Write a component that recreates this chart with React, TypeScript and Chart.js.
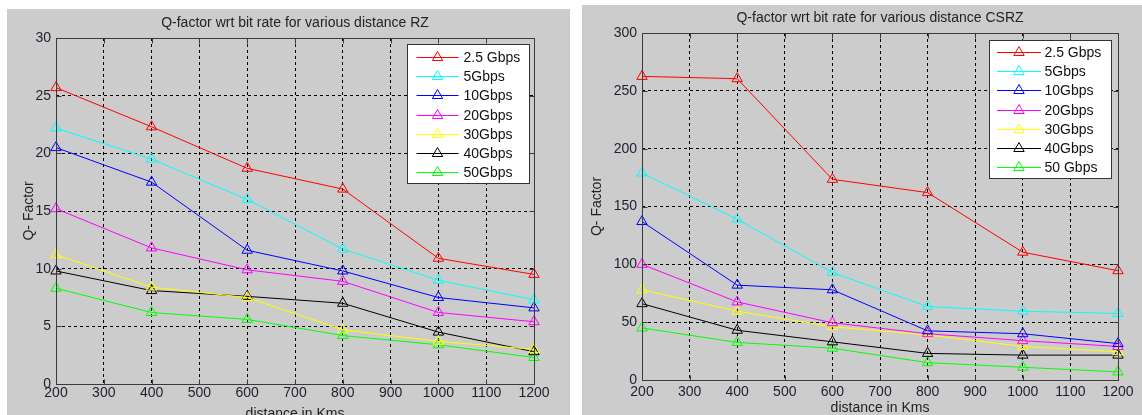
import React, { useEffect, useRef } from "react";
import { Chart, registerables } from "chart.js";

Chart.register(...registerables);

const FONT = "'Liberation Sans', Arial, Helvetica, sans-serif";

// ---------- data ----------
const distances = [200, 400, 600, 800, 1000, 1200];

const seriesColors = ["#ff0000", "#00ffff", "#0000ff", "#ff00ff", "#ffff00", "#000000", "#00ff00"];

const rzLabels = ["2.5 Gbps", "5Gbps", "10Gbps", "20Gbps", "30Gbps", "40Gbps", "50Gbps"];
const rz_2_5 = [25.7, 22.3, 18.7, 16.9, 10.9, 9.5];
const rz_5 = [22.2, 19.5, 16.0, 11.7, 9.0, 7.3];
const rz_10 = [20.5, 17.5, 11.6, 9.8, 7.5, 6.6];
const rz_20 = [15.2, 11.8, 9.9, 8.9, 6.2, 5.4];
const rz_30 = [11.2, 8.4, 7.5, 4.7, 3.7, 3.0];
const rz_40 = [9.8, 8.1, 7.6, 7.0, 4.5, 2.8];
const rz_50 = [8.3, 6.2, 5.6, 4.2, 3.4, 2.3];

const csrzLabels = ["2.5 Gbps", "5Gbps", "10Gbps", "20Gbps", "30Gbps", "40Gbps", "50 Gbps"];
const csrz_2_5 = [262.5, 260.5, 173.5, 162, 110.5, 94.5];
const csrz_5 = [179, 139, 93, 63.5, 59.5, 57.5];
const csrz_10 = [137, 82, 78, 42.5, 40, 31.5];
const csrz_20 = [100, 67.5, 49.5, 40, 34, 29];
const csrz_30 = [78, 59.5, 46, 39, 29, 24.5];
const csrz_40 = [66, 43, 33, 23, 21.5, 21.5];
const csrz_50 = [45, 32.5, 27.5, 15, 11, 7];

const rzTitle = "Q-factor wrt bit rate for various distance RZ";
const csrzTitle = "Q-factor wrt bit rate for various distance CSRZ";
const xTitle = "distance in Kms";
const yTitle = "Q- Factor";

// ---------- helpers ----------
function drawTri(ctx: CanvasRenderingContext2D, x: number, y: number, r: number) {
  const s = Math.sin((2 * Math.PI) / 3) * r;
  ctx.beginPath();
  ctx.moveTo(x, y - r);
  ctx.lineTo(x + s, y + r / 2);
  ctx.lineTo(x - s, y + r / 2);
  ctx.closePath();
  ctx.stroke();
}

const matlabPlugin = {
  id: "matlab",
  afterDatasetsDraw(chart: any, _args: any, o: any) {
    const { ctx, chartArea: a } = chart;
    const xs = chart.scales.x;
    const ys = chart.scales.y;
    ctx.save();
    ctx.setLineDash([]);
    const L = Math.round(a.left) + 0.5;
    const R = Math.round(a.right) + 0.5;
    const T = Math.round(a.top) + 0.5;
    const B = Math.round(a.bottom) + 0.5;
    ctx.strokeStyle = "#3a3a3a";
    ctx.lineWidth = 1;
    ctx.strokeRect(L, T, R - L, B - T);
    ctx.beginPath();
    xs.ticks.forEach((t: any) => {
      const px = Math.round(xs.getPixelForValue(t.value)) + 0.5;
      ctx.moveTo(px, B);
      ctx.lineTo(px, B - 5);
      ctx.moveTo(px, T);
      ctx.lineTo(px, T + 5);
    });
    ys.ticks.forEach((t: any) => {
      const py = Math.round(ys.getPixelForValue(t.value)) + 0.5;
      ctx.moveTo(L, py);
      ctx.lineTo(L + 5, py);
      ctx.moveTo(R, py);
      ctx.lineTo(R - 5, py);
    });
    ctx.stroke();

    // legend
    const lg = o.legend;
    const bx = Math.round(a.right - lg.right - lg.w);
    const by = Math.round(a.top + lg.top);
    ctx.fillStyle = "#ffffff";
    ctx.fillRect(bx, by, lg.w, lg.h);
    ctx.strokeStyle = "#333333";
    ctx.strokeRect(bx + 0.5, by + 0.5, lg.w, lg.h);
    ctx.font = `14px ${FONT}`;
    ctx.textBaseline = "middle";
    ctx.textAlign = "left";
    chart.data.datasets.forEach((ds: any, i: number) => {
      const cy = Math.round(by + lg.first + i * lg.step) + 0.5;
      ctx.strokeStyle = ds.borderColor;
      ctx.lineWidth = 1;
      ctx.beginPath();
      ctx.moveTo(bx + lg.lx0, cy);
      ctx.lineTo(bx + lg.lx1, cy);
      ctx.stroke();
      drawTri(ctx, bx + (lg.lx0 + lg.lx1) / 2, cy, 6);
      ctx.fillStyle = "#111111";
      ctx.fillText(ds.label, bx + lg.tx, cy + 1);
    });

    // titles
    ctx.fillStyle = "#222222";
    ctx.font = `14px ${FONT}`;
    ctx.textAlign = "center";
    ctx.textBaseline = "middle";
    const cx = (a.left + a.right) / 2;
    ctx.fillText(o.title, cx, o.titleY);
    ctx.fillText(o.xTitle, cx, o.xTitleY);
    ctx.save();
    ctx.translate(o.yTitleX, (a.top + a.bottom) / 2);
    ctx.rotate(-Math.PI / 2);
    ctx.fillText(o.yTitle, 0, 0);
    ctx.restore();
    ctx.restore();
  },
};

type Spec = {
  x: number;
  y: number;
  w: number;
  h: number;
  area: { left: number; top: number; right: number; bottom: number };
  yMax: number;
  yStep: number;
  labels: string[];
  series: number[][];
  title: string;
  titleY: number;
  xTitleY: number;
  yTitleX: number;
  xPad: number;
  legend: any;
};

function MatlabChart({ spec }: { spec: Spec }) {
  const ref = useRef<HTMLCanvasElement>(null);
  useEffect(() => {
    const canvas = ref.current!;
    const tickFont = { family: FONT, size: 14 };
    const datasets = spec.series.map((vals, i) => ({
      label: spec.labels[i],
      data: vals.map((v, j) => ({ x: distances[j], y: v })),
      borderColor: seriesColors[i],
      backgroundColor: "transparent",
      borderWidth: 1,
      pointStyle: "triangle",
      pointRadius: 6,
      pointBorderWidth: 1,
      pointBorderColor: seriesColors[i],
      pointBackgroundColor: "transparent",
      tension: 0,
      clip: false as any,
    }));
    const chart = new Chart(canvas, {
      type: "line",
      data: { datasets },
      options: {
        animation: false,
        responsive: false,
        maintainAspectRatio: false,
        events: [],
        layout: {
          padding: { left: 0, top: spec.area.top, right: spec.w - spec.area.right, bottom: 0 },
        },
        plugins: {
          legend: { display: false },
          tooltip: { enabled: false },
          title: { display: false },
          matlab: {
            title: spec.title,
            titleY: spec.titleY,
            xTitle,
            xTitleY: spec.xTitleY,
            yTitle,
            yTitleX: spec.yTitleX,
            legend: spec.legend,
          },
        } as any,
        scales: {
          x: {
            type: "linear",
            min: 200,
            max: 1200,
            ticks: {
              stepSize: 100,
              autoSkip: false,
              maxRotation: 0,
              padding: spec.xPad,
              color: "#1e1e30",
              font: tickFont,
              callback: (v: any) => String(v),
            },
            grid: { color: "#000000", lineWidth: 1, drawTicks: false },
            border: { display: false, dash: [3, 3] },
            afterFit: (s: any) => {
              s.height = spec.h - spec.area.bottom;
            },
          },
          y: {
            type: "linear",
            min: 0,
            max: spec.yMax,
            ticks: {
              stepSize: spec.yStep,
              padding: 5,
              color: "#1e1e30",
              font: tickFont,
              callback: (v: any) => String(v),
            },
            grid: { color: "#000000", lineWidth: 1, drawTicks: false },
            border: { display: false, dash: [3, 3] },
            afterFit: (s: any) => {
              s.width = spec.area.left;
            },
          },
        },
      },
      plugins: [matlabPlugin as any],
    });
    return () => chart.destroy();
  }, []);
  return (
    <canvas
      ref={ref}
      width={spec.w}
      height={spec.h}
      style={{
        position: "absolute",
        left: spec.x,
        top: spec.y,
        width: spec.w,
        height: spec.h,
        background: "#cccccc",
      }}
    />
  );
}

const leftSpec: Spec = {
  x: 7,
  y: 9,
  w: 563,
  h: 406,
  area: { left: 49, top: 29, right: 527, bottom: 375 },
  yMax: 30,
  yStep: 5,
  labels: rzLabels,
  series: [rz_2_5, rz_5, rz_10, rz_20, rz_30, rz_40, rz_50],
  title: rzTitle,
  titleY: 14,
  xTitleY: 405,
  yTitleX: 22,
  xPad: 1,
  legend: { w: 122, h: 139, right: 5, top: 6, first: 13, step: 19.2, lx0: 9.5, lx1: 51.5, tx: 56.5 },
};

const rightSpec: Spec = {
  x: 582,
  y: 5,
  w: 560,
  h: 410,
  area: { left: 60, top: 28, right: 536, bottom: 375 },
  yMax: 300,
  yStep: 50,
  labels: csrzLabels,
  series: [csrz_2_5, csrz_5, csrz_10, csrz_20, csrz_30, csrz_40, csrz_50],
  title: csrzTitle,
  titleY: 13.5,
  xTitleY: 403.5,
  yTitleX: 15.5,
  xPad: 4,
  legend: { w: 122, h: 138, right: 7, top: 7, first: 12, step: 19.2, lx0: 8, lx1: 52, tx: 55.5 },
};

export default function App() {
  return (
    <div style={{ position: "absolute", left: 0, top: 0, width: 1142, height: 415, background: "#ffffff", overflow: "hidden" }}>
      <MatlabChart spec={leftSpec} />
      <MatlabChart spec={rightSpec} />
    </div>
  );
}
